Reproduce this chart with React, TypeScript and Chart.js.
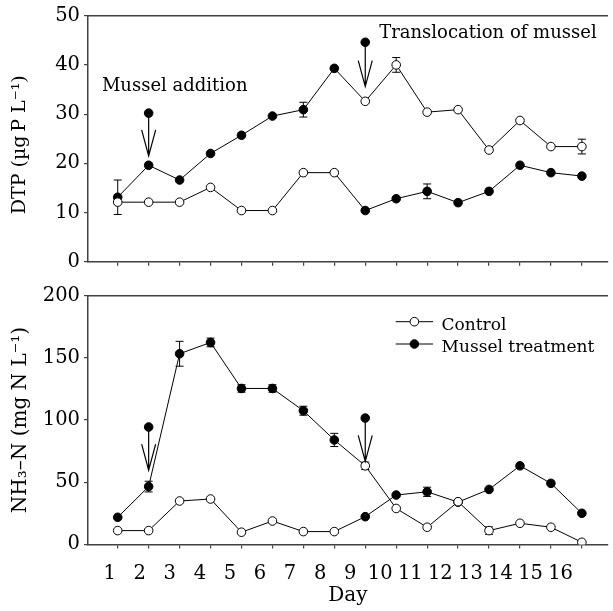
import React, { useEffect, useRef } from 'react';
import { Chart, registerables } from 'chart.js';

Chart.register(...registerables);

// ---------- data ----------
const days = [1, 2, 3, 4, 5, 6, 7, 8, 9, 10, 11, 12, 13, 14, 15, 16];
const dayTickLabels = ['1', '2', '3', '4', '5', '6', '7', '8', '9', '10', '11', '12', '13', '14', '15', '16'];
const translocationDay = 9;
const legendLabels = ['Control', 'Mussel treatment'];

const dtpControl = [12.1, 12.1, 12.1, 15.1, 10.4, 10.4, 18.1, 18.1, 32.6, 40.0, 30.4, 30.9, 22.7, 28.7, 23.4, 23.4];
const dtpControlErr = [0, 0, 0, 0, 0, 0, 0, 0, 0, 1.5, 0, 0, 0, 0, 0, 1.5];
const dtpTreatment = [13.1, 19.6, 16.6, 22.0, 25.7, 29.6, 30.9, 39.3, 10.4, 12.8, 14.3, 12.0, 14.3, 19.6, 18.1, 17.4];
const dtpTreatmentErr = [3.5, 0, 0, 0, 0, 0, 1.5, 0, 0, 0, 1.5, 0, 0, 0, 0, 0];
const dtpArrowDays = [2, 9];
const dtpArrowFrom = [30.2, 44.6];
const dtpArrowTo = [21.5, 35.6];
const dtpYTicks = [0, 10, 20, 30, 40, 50];

const nhControl = [11.1, 11.1, 34.9, 36.5, 9.8, 18.8, 10.3, 10.3, 63.2, 28.9, 13.8, 34.3, 11.1, 17.0, 13.8, 1.7];
const nhControlErr = [0, 0, 0, 0, 0, 0, 0, 0, 3, 0, 0, 0, 3, 0, 0, 0];
const nhTreatment = [21.8, 46.5, 153.3, 162.4, 125.4, 125.4, 107.5, 84.0, 22.3, 39.7, 42.3, 34.0, 44.2, 63.2, 49.1, 25.0];
const nhTreatmentErr = [0, 4.3, 10, 3.5, 3, 3, 3.6, 5.3, 0, 0, 3.7, 0, 0, 0, 0, 0];
const nhArrowDays = [2, 9];
const nhArrowFrom = [94.4, 101.6];
const nhArrowTo = [59.7, 66.8];
const nhYTicks = [0, 50, 100, 150, 200];

const dtpNotes = [
  { text: 'Mussel addition', x: 0.49, y: 35.6 },
  { text: 'Translocation of mussel', x: 9.45, y: 46.5 },
];

// ---------- style / layout ----------
const FONT = 'DejaVu Serif';
const AXIS_COLOR = '#404040';
const W = 613;
const X_MIN = 0.04;
const X_MAX = 16.835;
const LAB_MIN = 0.279;
const LAB_MAX = 17.566;
const Y_AXIS_W = 88;

type Panel = {
  control: number[];
  controlErr: number[];
  treatment: number[];
  treatmentErr: number[];
  arrowDays: number[];
  arrowFrom: number[];
  arrowTo: number[];
  yTicks: number[];
  yTitle: string;
  yTitleSize: number;
  notes: { text: string; x: number; y: number }[];
  legend: boolean;
  dayAxis: boolean;
  height: number;
  plotTop: number;
  plotBottom: number;
};

const dtpPanel: Panel = {
  control: dtpControl,
  controlErr: dtpControlErr,
  treatment: dtpTreatment,
  treatmentErr: dtpTreatmentErr,
  arrowDays: dtpArrowDays,
  arrowFrom: dtpArrowFrom,
  arrowTo: dtpArrowTo,
  yTicks: dtpYTicks,
  yTitle: 'DTP (\u00B5g\u2009P L\u207B\u00B9)  ',
  yTitleSize: 19,
  notes: dtpNotes,
  legend: false,
  dayAxis: false,
  height: 280,
  plotTop: 13.7,
  plotBottom: 261.7,
};

const nhPanel: Panel = {
  control: nhControl,
  controlErr: nhControlErr,
  treatment: nhTreatment,
  treatmentErr: nhTreatmentErr,
  arrowDays: nhArrowDays,
  arrowFrom: nhArrowFrom,
  arrowTo: nhArrowTo,
  yTicks: nhYTicks,
  yTitle: 'NH\u2083\u2013N (mg N L\u207B\u00B9)',
  yTitleSize: 20,
  notes: [],
  legend: true,
  dayAxis: true,
  height: 331,
  plotTop: 15,
  plotBottom: 264.4,
};

function buildConfig(p: Panel): any {
  const pts = (arr: number[]) => days.map((d, i) => ({ x: d, y: arr[i] }));
  const upper = days.map((d, i) => ({ x: d, y: d < translocationDay ? p.treatment[i] : p.control[i] }));
  const lower = days.map((d, i) => ({ x: d, y: d < translocationDay ? p.control[i] : p.treatment[i] }));
  const yMax = p.yTicks[p.yTicks.length - 1];
  const yStep = p.yTicks[1] - p.yTicks[0];

  const errorBars = {
    id: 'errorBars',
    beforeDatasetsDraw(chart: any) {
      const { ctx, scales } = chart;
      const x = scales.x;
      const y = scales.y;
      ctx.save();
      ctx.strokeStyle = '#000';
      ctx.lineWidth = 1;
      const sets: [number[], number[]][] = [
        [p.control, p.controlErr],
        [p.treatment, p.treatmentErr],
      ];
      sets.forEach(([vals, errs]) => {
        days.forEach((d, i) => {
          if (!errs[i]) return;
          const px = x.getPixelForValue(d);
          const yt = y.getPixelForValue(vals[i] + errs[i]);
          const yb = y.getPixelForValue(vals[i] - errs[i]);
          ctx.beginPath();
          ctx.moveTo(px, yt);
          ctx.lineTo(px, yb);
          ctx.moveTo(px - 4, yt);
          ctx.lineTo(px + 4, yt);
          ctx.moveTo(px - 4, yb);
          ctx.lineTo(px + 4, yb);
          ctx.stroke();
        });
      });
      ctx.restore();
    },
  };

  const arrows = {
    id: 'arrows',
    afterDatasetsDraw(chart: any) {
      const { ctx, scales } = chart;
      const x = scales.x;
      const y = scales.y;
      ctx.save();
      ctx.strokeStyle = '#000';
      ctx.lineWidth = 1.2;
      p.arrowDays.forEach((d, i) => {
        const px = x.getPixelForValue(d);
        const y0 = y.getPixelForValue(p.arrowFrom[i]);
        const y1 = y.getPixelForValue(p.arrowTo[i]);
        ctx.beginPath();
        ctx.moveTo(px, y0);
        ctx.lineTo(px, y1);
        ctx.moveTo(px - 7, y1 - 26);
        ctx.lineTo(px, y1);
        ctx.lineTo(px + 7, y1 - 26);
        ctx.stroke();
      });
      ctx.restore();
    },
  };

  const notesAndLegend = {
    id: 'notesAndLegend',
    afterDraw(chart: any) {
      const { ctx, scales, chartArea } = chart;
      const x = scales.x;
      const y = scales.y;
      ctx.save();
      ctx.fillStyle = '#000';
      ctx.font = `18px "${FONT}"`;
      ctx.textAlign = 'left';
      ctx.textBaseline = 'middle';
      p.notes.forEach((n) => {
        ctx.fillText(n.text, x.getPixelForValue(n.x), y.getPixelForValue(n.y));
      });
      if (p.legend) {
        const L = chartArea.left;
        const T = chartArea.top;
        ctx.font = `17px "${FONT}"`;
        legendLabels.forEach((lab, i) => {
          const cy = T + 26 + i * 22.3;
          ctx.strokeStyle = '#000';
          ctx.lineWidth = 1;
          ctx.beginPath();
          ctx.moveTo(L + 307.7, cy);
          ctx.lineTo(L + 345.1, cy);
          ctx.stroke();
          ctx.beginPath();
          ctx.arc(L + 326.4, cy, 4.3, 0, Math.PI * 2);
          ctx.fillStyle = i === 0 ? '#fff' : '#000';
          ctx.fill();
          ctx.stroke();
          ctx.fillStyle = '#000';
          ctx.fillText(lab, L + 353.6, cy + 3.5);
        });
      }
      ctx.restore();
    },
  };

  const scales: any = {
    x: {
      type: 'linear',
      position: 'bottom',
      min: X_MIN,
      max: X_MAX,
      afterBuildTicks: (a: any) => {
        a.ticks = days.map((v) => ({ value: v }));
      },
      ticks: { display: false },
      grid: { drawOnChartArea: false, drawTicks: true, tickLength: 4, color: AXIS_COLOR, lineWidth: 1.2 },
      border: { display: true, color: AXIS_COLOR, width: 1.5 },
      afterFit: (a: any) => {
        a.height = p.dayAxis ? 4 : p.height - p.plotBottom;
      },
    },
    xTop: {
      type: 'linear',
      position: 'top',
      min: X_MIN,
      max: X_MAX,
      ticks: { display: false },
      grid: { display: false, drawTicks: false },
      border: { display: true, color: AXIS_COLOR, width: 1.5 },
      afterFit: (a: any) => {
        a.height = p.plotTop;
      },
    },
    y: {
      type: 'linear',
      position: 'left',
      min: 0,
      max: yMax,
      afterBuildTicks: (a: any) => {
        a.ticks = p.yTicks.map((v) => ({ value: v }));
      },
      ticks: { stepSize: yStep, color: '#000', font: { family: FONT, size: 19.5 }, padding: 4 },
      grid: { drawOnChartArea: false, drawTicks: true, tickLength: 4, color: AXIS_COLOR, lineWidth: 1.2 },
      border: { display: true, color: AXIS_COLOR, width: 1.5 },
      title: {
        display: true,
        text: p.yTitle,
        color: '#000',
        font: { family: FONT, size: p.yTitleSize },
        padding: { top: 9, bottom: 0 },
      },
      afterFit: (a: any) => {
        a.width = Y_AXIS_W;
      },
    },
  };

  if (p.dayAxis) {
    scales.xLab = {
      type: 'linear',
      position: 'bottom',
      weight: 1,
      min: LAB_MIN,
      max: LAB_MAX,
      afterBuildTicks: (a: any) => {
        a.ticks = days.map((v) => ({ value: v }));
      },
      ticks: {
        autoSkip: false,
        maxRotation: 0,
        color: '#000',
        font: { family: FONT, size: 19.5 },
        padding: 13.5,
        callback: (_v: any, i: number) => dayTickLabels[i],
      },
      grid: { display: false, drawTicks: false },
      border: { display: false },
      title: {
        display: true,
        text: 'Day',
        color: '#000',
        font: { family: FONT, size: 20 },
        padding: { top: 0, bottom: 3 },
      },
      afterFit: (a: any) => {
        a.height = p.height - p.plotBottom - 4;
      },
    };
  }

  const markerBase = {
    type: 'line',
    showLine: false,
    pointRadius: 4.3,
    pointHoverRadius: 4.3,
    pointBorderColor: '#000',
    pointBorderWidth: 1,
    order: 0,
  };
  const lineBase = {
    type: 'line',
    borderColor: '#000',
    borderWidth: 1,
    pointRadius: 0,
    fill: false,
    tension: 0,
    order: 1,
  };

  return {
    type: 'line',
    data: {
      datasets: [
        { ...markerBase, label: legendLabels[0], data: pts(p.control), pointBackgroundColor: '#fff', backgroundColor: '#fff' },
        { ...markerBase, label: legendLabels[1], data: pts(p.treatment), pointBackgroundColor: '#000', backgroundColor: '#000' },
        {
          ...markerBase,
          label: 'arrow',
          data: p.arrowDays.map((d, i) => ({ x: d, y: p.arrowFrom[i] })),
          pointBackgroundColor: '#000',
          backgroundColor: '#000',
        },
        { ...lineBase, label: 'upper', data: upper },
        { ...lineBase, label: 'lower', data: lower },
      ],
    },
    options: {
      animation: false,
      responsive: false,
      maintainAspectRatio: false,
      devicePixelRatio: 1,
      layout: { padding: 0 },
      plugins: { legend: { display: false }, tooltip: { enabled: false } },
      events: [],
      scales,
    },
    plugins: [errorBars, arrows, notesAndLegend],
  };
}

function PanelChart({ panel }: { panel: Panel }) {
  const ref = useRef<HTMLCanvasElement>(null);
  useEffect(() => {
    if (!ref.current) return;
    const chart = new Chart(ref.current, buildConfig(panel));
    return () => chart.destroy();
  }, [panel]);
  return (
    <canvas
      ref={ref}
      width={W}
      height={panel.height}
      style={{ display: 'block', width: W, height: panel.height }}
    />
  );
}

export default function App() {
  return (
    <div style={{ position: 'absolute', left: 0, top: 0, width: W, height: 611, background: '#fff', overflow: 'hidden' }}>
      <PanelChart panel={dtpPanel} />
      <PanelChart panel={nhPanel} />
    </div>
  );
}
